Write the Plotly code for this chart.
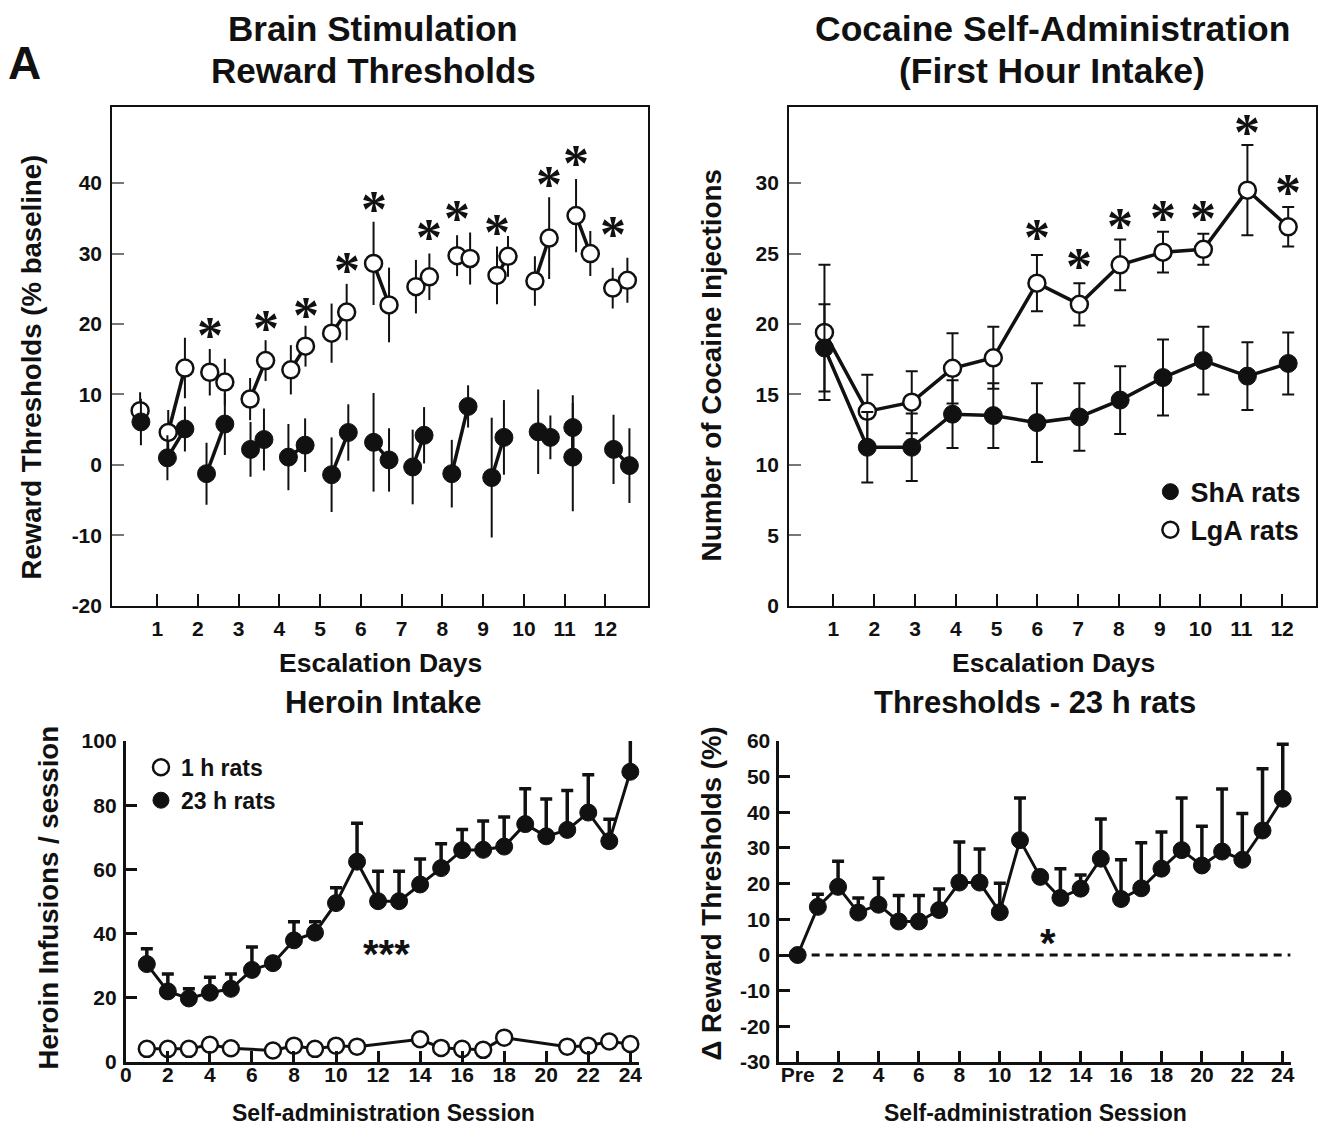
import plotly.graph_objects as go

W, H = 1337, 1138
FONT = "Liberation Sans, Arial, Helvetica, sans-serif"
STARFONT = "Liberation Serif, Times New Roman, serif"
BLACK = "#111111"

# ---------------- Panel A1: Brain Stimulation Reward Thresholds ----------------
tl_sha_x = [0.60, 1.25, 1.68, 2.21, 2.66, 3.29, 3.62, 4.22, 4.63, 5.28, 5.69, 6.31, 6.69,
            7.27, 7.55, 8.23, 8.63, 9.21, 9.51, 10.35, 10.65, 11.20, 11.20, 12.20, 12.59]
tl_sha_y = [6.1, 1.0, 5.1, -1.25, 5.8, 2.2, 3.6, 1.1, 2.8, -1.4, 4.6, 3.2, 0.7,
            -0.3, 4.2, -1.25, 8.3, -1.8, 3.9, 4.7, 3.9, 5.3, 1.1, 2.2, -0.1]
tl_sha_err = [3.3, 3.2, 3.2, 4.4, 4.4, 3.9, 4.4, 4.7, 3.8, 5.3, 4.0, 7.0, 4.5,
              5.3, 4.0, 4.8, 3.0, 8.5, 5.3, 6.0, 3.1, 4.6, 7.7, 4.9, 5.3]
tl_sha_day = [0, 1, 1, 2, 2, 3, 3, 4, 4, 5, 5, 6, 6, 7, 7, 8, 8, 9, 9, 10, 10, 11, 11, 12, 12]

tl_lga_x = [0.58, 1.27, 1.68, 2.29, 2.66, 3.28, 3.66, 4.28, 4.64, 5.28, 5.65, 6.31, 6.69,
            7.35, 7.68, 8.36, 8.68, 9.34, 9.61, 10.27, 10.62, 11.28, 11.63, 12.18, 12.54]
tl_lga_y = [7.7, 4.6, 13.75, 13.15, 11.75, 9.35, 14.8, 13.5, 16.85, 18.7, 21.7, 28.6, 22.7,
            25.3, 26.7, 29.7, 29.3, 26.9, 29.6, 26.1, 32.2, 35.4, 30.0, 25.1, 26.2]
tl_lga_err = [2.6, 3.2, 4.3, 3.3, 3.3, 3.0, 2.9, 3.5, 2.9, 4.2, 4.0, 5.9, 5.3,
              3.8, 3.3, 2.9, 3.7, 4.1, 2.9, 3.5, 5.8, 5.2, 3.2, 2.9, 3.2]
tl_lga_day = tl_sha_day
tl_lga_unlinked = [2]

tl_star_x = [2.29, 3.66, 4.64, 5.66, 6.31, 7.68, 8.36, 9.34, 10.62, 11.28, 12.18]
tl_star_y = [18.9, 19.9, 21.8, 28.2, 36.8, 32.8, 35.6, 33.6, 40.3, 43.3, 33.3]

tl_xticks = list(range(1, 13))
tl_yticks = [-20, -10, 0, 10, 20, 30, 40]
tl_ytext = ["-20", "-10", "0", "10", "20", "30", "40"]

# ---------------- Panel A2: Cocaine self-administration ----------------
tr_days = [0.78, 1.83, 2.92, 3.92, 4.92, 5.99, 7.03, 8.03, 9.08, 10.07, 11.15, 12.15]
tr_sha = [18.3, 11.25, 11.25, 13.6, 13.5, 13.0, 13.4, 14.6, 16.2, 17.4, 16.3, 17.2]
tr_sha_err = [3.1, 2.5, 2.4, 2.4, 2.3, 2.8, 2.4, 2.4, 2.7, 2.4, 2.4, 2.2]
tr_lga = [19.4, 13.8, 14.45, 16.85, 17.6, 22.9, 21.4, 24.2, 25.1, 25.3, 29.5, 26.9]
tr_lga_err = [4.8, 2.6, 2.2, 2.5, 2.2, 2.0, 1.5, 1.8, 1.45, 1.1, 3.2, 1.4]
tr_star_x = [5.99, 7.03, 8.03, 9.08, 10.07, 11.15, 12.15]
tr_star_y = [26.4, 24.4, 27.2, 27.8, 27.75, 33.9, 29.65]
tr_xticks = list(range(1, 13))
tr_yticks = [0, 5, 10, 15, 20, 25, 30]

# ---------------- Panel B1: Heroin intake ----------------
bl_sessions = list(range(1, 25))
bl_23h = [30.5, 22.0, 19.8, 21.6, 22.8, 28.7, 30.8, 37.9, 40.3, 49.5, 62.4, 50.1,
          50.1, 55.3, 60.4, 66.0, 66.1, 67.1, 74.1, 70.3, 72.3, 77.7, 68.8, 90.4]
bl_23h_err = [4.8, 5.4, 3.0, 4.8, 4.6, 7.1, 0.0, 5.8, 3.4, 4.8, 12.0, 9.3,
              9.3, 7.9, 7.6, 6.4, 9.0, 9.2, 11.0, 11.6, 12.3, 11.8, 6.8, 10.1]
bl_1h_sessions = [1, 2, 3, 4, 5, 7, 8, 9, 10, 11, 14, 15, 16, 17, 18, 21, 22, 23, 24]
bl_1h = [4.1, 4.1, 4.1, 5.4, 4.3, 3.6, 5.1, 4.1, 5.1, 4.8, 7.1, 4.4, 4.1, 3.8, 7.6,
         4.8, 5.1, 6.4, 5.6]
bl_xticks = list(range(0, 25, 2))
bl_yticks = list(range(0, 101, 20))
bl_star = ("***", 12.4, 36.2)

# ---------------- Panel B2: Thresholds - 23 h rats ----------------
br_sessions = list(range(0, 25))
br_vals = [0.0, 13.5, 19.1, 11.9, 14.1, 9.4, 9.4, 12.6, 20.3, 20.3, 12.0, 32.2, 21.9,
           16.0, 18.6, 27.0, 15.7, 18.7, 24.2, 29.4, 25.1, 29.0, 26.7, 34.9, 43.8]
br_err = [0.0, 3.5, 7.2, 4.1, 7.4, 7.3, 7.3, 5.9, 11.4, 9.4, 8.1, 11.8, 0.0,
          8.2, 3.8, 11.1, 11.0, 12.8, 10.3, 14.6, 11.0, 17.5, 13.0, 17.3, 15.3]
br_xticks = list(range(0, 25, 2))
br_xtext = ["Pre"] + [str(v) for v in range(2, 25, 2)]
br_yticks = list(range(-30, 61, 10))
br_ytext = [str(v) for v in br_yticks]
br_star = ("*", 12.4, 5.7)


def paired(xs, ys, days, skip=()):
    lx, ly = [], []
    groups = {}
    for x, y, d in zip(xs, ys, days):
        groups.setdefault(d, []).append((x, y))
    for d, pts in groups.items():
        if len(pts) < 2 or d in skip:
            continue
        for x, y in pts:
            lx.append(x)
            ly.append(y)
        lx.append(None)
        ly.append(None)
    return lx, ly


def filled(size):
    return dict(symbol="circle", size=size, color=BLACK, line=dict(color=BLACK, width=1))


def hollow(size):
    return dict(symbol="circle", size=size, color="white", line=dict(color=BLACK, width=2.5))


fig = go.Figure()

# --- A1 lines
for xs, ys, days, skip in [(tl_lga_x, tl_lga_y, tl_lga_day, tl_lga_unlinked),
                           (tl_sha_x, tl_sha_y, tl_sha_day, ())]:
    lx, ly = paired(xs, ys, days, skip)
    fig.add_trace(go.Scatter(x=lx, y=ly, mode="lines", xaxis="x", yaxis="y",
                             line=dict(color=BLACK, width=3.5), showlegend=False,
                             hoverinfo="skip", cliponaxis=False))
# --- A1 markers
fig.add_trace(go.Scatter(x=tl_lga_x, y=tl_lga_y, mode="markers", xaxis="x", yaxis="y",
                         marker=hollow(17),
                         error_y=dict(type="data", array=tl_lga_err, visible=True,
                                      color=BLACK, thickness=2, width=0),
                         showlegend=False, cliponaxis=False))
fig.add_trace(go.Scatter(x=tl_sha_x, y=tl_sha_y, mode="markers", xaxis="x", yaxis="y",
                         marker=filled(18),
                         error_y=dict(type="data", array=tl_sha_err, visible=True,
                                      color=BLACK, thickness=2, width=0),
                         showlegend=False, cliponaxis=False))

# --- A2
fig.add_trace(go.Scatter(x=tr_days, y=tr_lga, mode="lines+markers", xaxis="x2", yaxis="y2",
                         line=dict(color=BLACK, width=3.5), marker=hollow(17),
                         error_y=dict(type="data", array=tr_lga_err, visible=True,
                                      color=BLACK, thickness=2, width=6),
                         showlegend=False, cliponaxis=False))
fig.add_trace(go.Scatter(x=tr_days, y=tr_sha, mode="lines+markers", xaxis="x2", yaxis="y2",
                         line=dict(color=BLACK, width=3.5), marker=filled(18),
                         error_y=dict(type="data", array=tr_sha_err, visible=True,
                                      color=BLACK, thickness=2, width=6),
                         showlegend=False, cliponaxis=False))

# --- B1
fig.add_trace(go.Scatter(x=bl_1h_sessions, y=bl_1h, mode="lines+markers", xaxis="x3", yaxis="y3",
                         line=dict(color=BLACK, width=3), marker=hollow(16),
                         showlegend=False, cliponaxis=False))
fig.add_trace(go.Scatter(x=bl_sessions, y=bl_23h, mode="lines+markers", xaxis="x3", yaxis="y3",
                         line=dict(color=BLACK, width=3), marker=filled(17),
                         error_y=dict(type="data", symmetric=False, array=bl_23h_err,
                                      arrayminus=[0] * len(bl_23h_err), visible=True,
                                      color=BLACK, thickness=3.5, width=6),
                         showlegend=False, cliponaxis=False))

# --- B2
fig.add_trace(go.Scatter(x=br_sessions, y=br_vals, mode="lines+markers", xaxis="x4", yaxis="y4",
                         line=dict(color=BLACK, width=3), marker=filled(17),
                         error_y=dict(type="data", symmetric=False, array=br_err,
                                      arrayminus=[0] * len(br_err), visible=True,
                                      color=BLACK, thickness=3.5, width=6),
                         showlegend=False, cliponaxis=False))

# --- legends (marker-only entries)
fig.add_trace(go.Scatter(x=[None], y=[None], mode="markers", name="ShA rats",
                         xaxis="x2", yaxis="y2", legend="legend", marker=filled(17)))
fig.add_trace(go.Scatter(x=[None], y=[None], mode="markers", name="LgA rats",
                         xaxis="x2", yaxis="y2", legend="legend", marker=hollow(16)))
fig.add_trace(go.Scatter(x=[None], y=[None], mode="markers", name="1 h rats",
                         xaxis="x3", yaxis="y3", legend="legend2", marker=hollow(16)))
fig.add_trace(go.Scatter(x=[None], y=[None], mode="markers", name="23 h rats",
                         xaxis="x3", yaxis="y3", legend="legend2", marker=filled(17)))

tickfont = dict(family=FONT, size=21, color=BLACK, weight="bold")


def box_axis(domain, rng, tickvals, ticktext=None, tickcolor=BLACK, anchor=None, standoff=4):
    d = dict(domain=domain, range=rng, tickmode="array", tickvals=tickvals,
             ticks="inside", ticklen=12, tickwidth=2, tickcolor=tickcolor,
             showline=True, mirror=True, linewidth=2, linecolor=BLACK,
             showgrid=False, zeroline=False, tickfont=tickfont, anchor=anchor,
             ticklabelstandoff=standoff)
    if ticktext is not None:
        d["ticktext"] = ticktext
    return d


def open_axis(domain, rng, tickvals, ticktext=None, anchor=None, standoff=0):
    d = dict(domain=domain, range=rng, tickmode="array", tickvals=tickvals,
             ticks="inside", ticklen=11, tickwidth=3, tickcolor=BLACK,
             showline=True, mirror=False, linewidth=3, linecolor=BLACK,
             showgrid=False, zeroline=False, tickfont=tickfont, anchor=anchor,
             ticklabelstandoff=standoff)
    if ticktext is not None:
        d["ticktext"] = ticktext
    return d


top_dom = [1 - 606 / H, 1 - 97 / H]
bot_dom = [1 - 1071.7 / H, 1 - 744 / H]

layout = dict(
    width=W, height=H, margin=dict(l=0, r=0, t=0, b=0),
    paper_bgcolor="white", plot_bgcolor="white",
    font=dict(family=FONT, color=BLACK),
    xaxis=box_axis([107 / W, 647 / W], [-0.105, 13.05], tl_xticks, anchor="y", standoff=3),
    yaxis=box_axis(top_dom, [-20, 50.8], tl_yticks, tl_ytext, tickcolor="#777777", anchor="x", standoff=4),
    xaxis2=box_axis([789 / W, 1320 / W], [-0.087, 12.835], tr_xticks, anchor="y2", standoff=3),
    yaxis2=box_axis(top_dom, [0, 35.4], tr_yticks, tickcolor="#777777", anchor="x2", standoff=4),
    xaxis3=open_axis([120.7 / W, 637.5 / W], [0, 24.4], bl_xticks, anchor="y3", standoff=-8),
    yaxis3=open_axis(bot_dom, [0, 100], bl_yticks, anchor="x3", standoff=2),
    xaxis4=open_axis([779.3 / W, 1294.3 / W], [-0.9, 24.39], br_xticks, br_xtext, anchor="y4", standoff=-8),
    yaxis4=open_axis(bot_dom, [-30, 60], br_yticks, br_ytext, anchor="x4", standoff=2),
    legend=dict(x=1153 / W, y=1 - 465 / H, xanchor="left", yanchor="top",
                font=dict(family=FONT, size=27, color=BLACK, weight="bold"),
                bgcolor="rgba(0,0,0,0)", itemwidth=30, tracegroupgap=0),
    legend2=dict(x=136 / W, y=1 - 749 / H, xanchor="left", yanchor="top",
                 font=dict(family=FONT, size=23, color=BLACK, weight="bold"),
                 bgcolor="rgba(0,0,0,0)", itemwidth=30, tracegroupgap=0),
    showlegend=True,
)
fig.update_layout(**layout)

# dashed zero reference in B2
fig.add_shape(type="line", xref="x4", yref="y4", x0=0, x1=24.39, y0=0, y1=0,
              line=dict(color=BLACK, width=3, dash="8px,6px"), layer="below")

ann = []


def text(t, x, y, size, angle=0, xref="paper", yref="paper", yshift=0, family=FONT):
    ann.append(dict(text=t, x=x, y=y, xref=xref, yref=yref, showarrow=False,
                    xanchor="center", yanchor="middle", textangle=angle, yshift=yshift,
                    font=dict(family=family, size=size, color=BLACK, weight="bold")))


text("A", 19 / W, 1 - 52 / H, 46)
text("Brain Stimulation", 370 / W, 1 - 17 / H, 35)
text("Reward Thresholds", 370 / W, 1 - 60 / H, 35)
text("Cocaine Self-Administration", 1054 / W, 1 - 17 / H, 35.5)
text("(First Hour Intake)", 1054 / W, 1 - 60 / H, 35.5)
text("Escalation Days", 377 / W, 1 - 664 / H, 26.5)
text("Escalation Days", 1055 / W, 1 - 664 / H, 26.5)
text("Reward Thresholds (% baseline)", 26 / W, 1 - 362 / H, 27.6, angle=-90)
text("Number of Cocaine Injections", 711 / W, 1 - 361 / H, 27.8, angle=-90)
text("Heroin Intake", 380 / W, 1 - 705 / H, 31)
text("Thresholds - 23 h rats", 1037 / W, 1 - 705 / H, 31)
text("Heroin Infusions / session", 43 / W, 1 - 904 / H, 27.6, angle=-90)
text("\u0394 Reward Thresholds (%)", 711 / W, 1 - 900 / H, 27.6, angle=-90)
text("Self-administration Session", 380 / W, 1 - 1124 / H, 23)
text("Self-administration Session", 1037 / W, 1 - 1124 / H, 23)

for sx, sy in zip(tl_star_x, tl_star_y):
    text("*", sx, sy, 52, xref="x", yref="y", yshift=-4, family=STARFONT)
for sx, sy in zip(tr_star_x, tr_star_y):
    text("*", sx, sy, 52, xref="x2", yref="y2", yshift=-4, family=STARFONT)
text(bl_star[0], bl_star[1], bl_star[2], 40, xref="x3", yref="y3", yshift=-8)
text(br_star[0], br_star[1], br_star[2], 40, xref="x4", yref="y4", yshift=-8)

fig.update_layout(annotations=ann)
fig.write_html("out.html")
